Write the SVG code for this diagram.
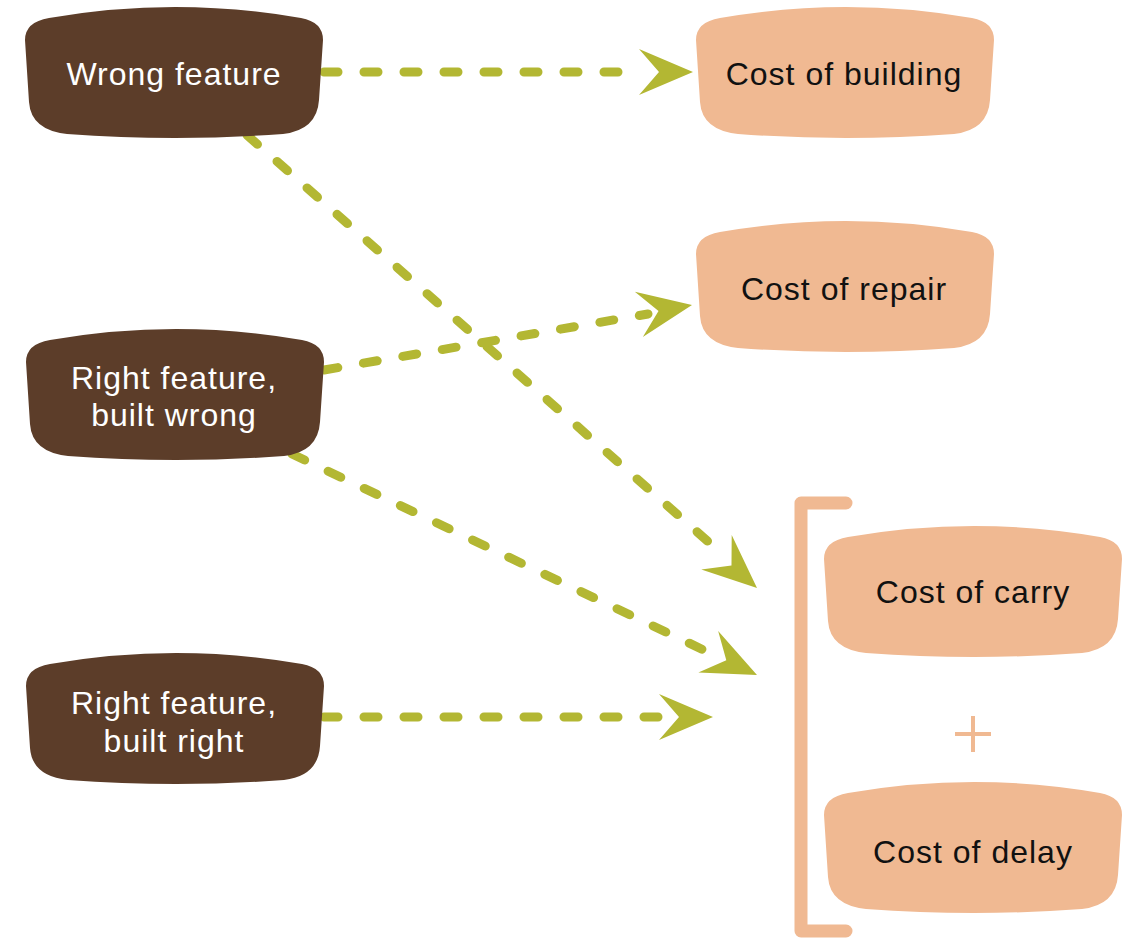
<svg xmlns="http://www.w3.org/2000/svg" width="1138" height="938" viewBox="0 0 1138 938">
<defs>
<style>
.dark{fill:#5c3d29}
.light{fill:#f0b992}
.t{font-family:"Liberation Sans",Arial,sans-serif;font-size:32px;text-anchor:middle;letter-spacing:1px}
.tw{fill:#ffffff}
.tb{fill:#111111}
.c{fill:none;stroke:#b3b733;stroke-width:9;stroke-linecap:round;stroke-dasharray:14 26}
.ah{fill:#b3b733}
</style>
<path id="blob" d="M0,32 Q0,14 24,10 Q150,-12 276,10 Q298,14 298,32 L294,92 Q292,122 258,126 Q150,134 42,126 Q6,122 4,94 Z"/>
<path id="head" d="M0,0 L-54,-23 L-34,0 L-54,23 Z"/>
</defs>
<rect width="1138" height="938" fill="#ffffff"/>
<g id="connectors">
<line class="c" x1="324" y1="72" x2="636" y2="72"/>
<use href="#head" class="ah" transform="translate(693,72)"/>
<line class="c" x1="247" y1="135" x2="712" y2="545"/>
<use href="#head" class="ah" transform="translate(757,588) rotate(41.4)"/>
<line class="c" x1="324" y1="370" x2="648" y2="314"/>
<use href="#head" class="ah" transform="translate(692,305) rotate(-10)"/>
<line class="c" x1="292" y1="454" x2="712" y2="654"/>
<use href="#head" class="ah" transform="translate(757,675) rotate(25.5)"/>
<line class="c" x1="324" y1="717" x2="660" y2="717"/>
<use href="#head" class="ah" transform="translate(713,717)"/>
</g>
<g id="bracket">
<path d="M846,503 L801,503 L801,931 L846,931" fill="none" stroke="#f0b992" stroke-width="13" stroke-linecap="round" stroke-linejoin="round"/>
</g>
<g id="n-wrong-feature">
<use href="#blob" class="dark" transform="translate(25,8)"/>
<text class="t tw" x="174" y="85">Wrong feature</text>
</g>
<g id="n-right-built-wrong">
<use href="#blob" class="dark" transform="translate(26,330)"/>
<text class="t tw" x="174" y="389">Right feature,</text>
<text class="t tw" x="174" y="426">built wrong</text>
</g>
<g id="n-right-built-right">
<use href="#blob" class="dark" transform="translate(26,654)"/>
<text class="t tw" x="174" y="714">Right feature,</text>
<text class="t tw" x="174" y="752">built right</text>
</g>
<g id="n-cost-building">
<use href="#blob" class="light" transform="translate(696,8)"/>
<text class="t tb" x="844" y="85">Cost of building</text>
</g>
<g id="n-cost-repair">
<use href="#blob" class="light" transform="translate(696,222)"/>
<text class="t tb" x="844" y="300">Cost of repair</text>
</g>
<g id="n-cost-carry">
<use href="#blob" class="light" transform="translate(824,527)"/>
<text class="t tb" x="973" y="603">Cost of carry</text>
</g>
<g id="plus">
<path d="M973,716 V752 M955,734 H991" stroke="#f0b992" stroke-width="4" fill="none"/>
</g>
<g id="n-cost-delay">
<use href="#blob" class="light" transform="translate(824,783)"/>
<text class="t tb" x="973" y="863">Cost of delay</text>
</g>
</svg>
